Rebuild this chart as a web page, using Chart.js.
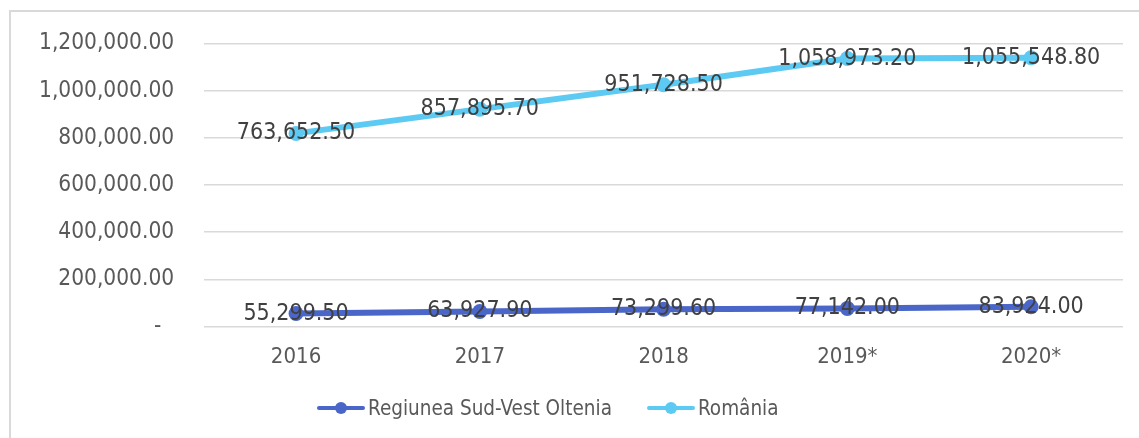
<!DOCTYPE html>
<html>
<head>
<meta charset="utf-8">
<script src="https://cdn.jsdelivr.net/npm/chart.js@4"></script>
<style>
  html, body { margin: 0; padding: 0; background: #ffffff; }
  #wrap { position: relative; width: 1139px; height: 438px; overflow: hidden; }
  #frame { position: absolute; left: 9px; top: 10px; width: 1200px; height: 500px; border: 2px solid #d9d9d9; box-sizing: border-box; }
  #c { position: absolute; left: 0; top: 0; }
  #legend { position: absolute; left: 317px; top: 396px; height: 24px; display: flex; align-items: center; gap: 35px;
            font-family: 'DejaVu Sans Condensed', 'DejaVu Sans', sans-serif; font-size: 20.5px; color: #595959; white-space: nowrap; }
  .item { display: flex; align-items: center; }
  .sym { position: relative; width: 48px; height: 14px; margin-right: 3px; }
  .sym .ln { position: absolute; left: 0; right: 0; top: 5px; height: 4px; border-radius: 2px; }
  .sym .dot { position: absolute; left: 18px; top: 1px; width: 12px; height: 12px; border-radius: 50%; }
</style>
</head>
<body>
<div id="wrap">
  <div id="frame"></div>
  <canvas id="c" width="1139" height="438"></canvas>
  <div id="legend"></div>
</div>
<script>
const categories = ['2016', '2017', '2018', '2019*', '2020*'];
const sudVestOltenia = [55299.5, 63927.9, 73299.6, 77142.0, 83924.0];
const romania = [763652.5, 857895.7, 951728.5, 1058973.2, 1055548.8];
const seriesNames = ['Regiunea Sud-Vest Oltenia', 'România'];
const yTicks = [0, 200000, 400000, 600000, 800000, 1000000, 1200000];

const FONT = "'DejaVu Sans Condensed', 'DejaVu Sans', sans-serif";
const COLORS = ['#4a66c9', '#5ccaf2'];

function fmt(v) {
  return v.toLocaleString('en-US', { minimumFractionDigits: 2, maximumFractionDigits: 2 });
}

const dataLabels = {
  id: 'dataLabels',
  afterDatasetsDraw(chart) {
    const ctx = chart.ctx;
    ctx.save();
    ctx.font = '23px ' + FONT;
    ctx.fillStyle = '#404040';
    ctx.textAlign = 'center';
    ctx.textBaseline = 'middle';
    chart.data.datasets.forEach((ds, i) => {
      const meta = chart.getDatasetMeta(i);
      meta.data.forEach((pt, j) => {
        ctx.fillText(fmt(ds.data[j]), pt.x, pt.y);
      });
    });
    ctx.restore();
  }
};

function makeDataset(label, data, color) {
  return {
    label, data,
    borderColor: color,
    backgroundColor: color,
    pointBackgroundColor: color,
    pointBorderWidth: 0,
    pointRadius: 7.5,
    borderWidth: 6,
    fill: false
  };
}

const chart = new Chart(document.getElementById('c'), {
  type: 'line',
  data: {
    labels: categories,
    datasets: [
      makeDataset(seriesNames[0], sudVestOltenia, COLORS[0]),
      makeDataset(seriesNames[1], romania, COLORS[1])
    ]
  },
  options: {
    responsive: false,
    animation: false,
    layout: { padding: { left: 9, right: 16, top: 37, bottom: 51 } },
    scales: {
      x: {
        offset: true,
        grid: { display: false, drawTicks: false },
        border: { display: false },
        ticks: { color: '#595959', font: { family: FONT, size: 22 }, padding: 17 }
      },
      y: {
        stacked: true,
        min: 0,
        max: 1200000,
        afterBuildTicks(axis) { axis.ticks = yTicks.map(v => ({ value: v })); },
        grid: { color: '#d9d9d9', lineWidth: 1.5, drawTicks: false },
        border: { display: false },
        ticks: {
          color: '#595959',
          font: { family: FONT, size: 22.5 },
          padding: 30,
          callback: (v) => v === 0 ? '-\u2007' : fmt(v)
        }
      }
    },
    plugins: {
      legend: { display: false },
      tooltip: { enabled: false }
    }
  },
  plugins: [dataLabels]
});

// HTML legend built from the chart's datasets
const legendEl = document.getElementById('legend');
chart.data.datasets.forEach((ds) => {
  const item = document.createElement('div');
  item.className = 'item';
  const sym = document.createElement('div');
  sym.className = 'sym';
  const ln = document.createElement('div');
  ln.className = 'ln';
  ln.style.background = ds.borderColor;
  const dot = document.createElement('div');
  dot.className = 'dot';
  dot.style.background = ds.borderColor;
  sym.appendChild(ln);
  sym.appendChild(dot);
  const txt = document.createElement('span');
  txt.textContent = ds.label;
  item.appendChild(sym);
  item.appendChild(txt);
  legendEl.appendChild(item);
});
</script>
</body>
</html>
